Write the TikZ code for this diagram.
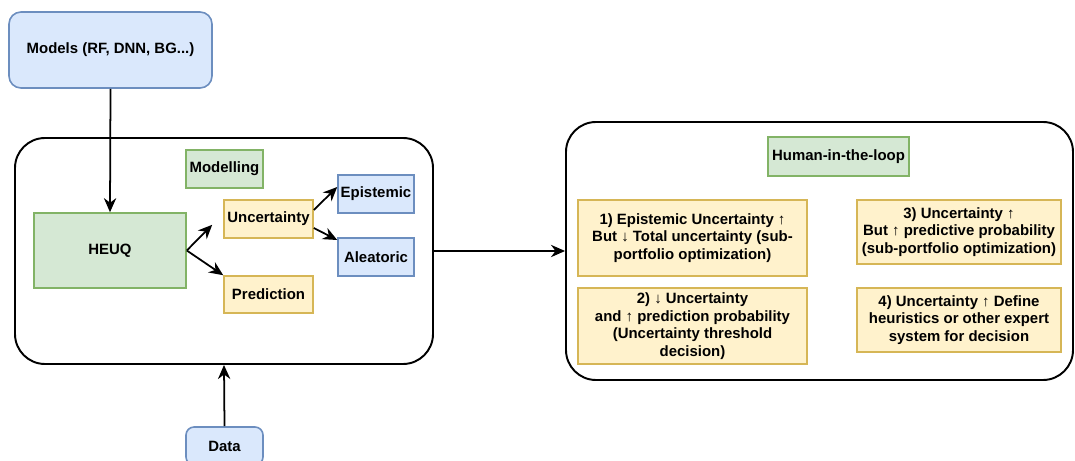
\documentclass[tikz,border=0pt]{standalone}
\usepackage{fontspec}
\setmainfont{Liberation Sans}
\usepackage{tikz}
\usetikzlibrary{arrows.meta,calc}
\usepackage{xcolor}
\definecolor{BoxBlue}{HTML}{dae8fc}
\definecolor{LineBlue}{HTML}{6c8ebf}
\definecolor{BoxGreen}{HTML}{d5e8d4}
\definecolor{LineGreen}{HTML}{82b366}
\definecolor{BoxYellow}{HTML}{fff2cc}
\definecolor{LineYellow}{HTML}{d6b656}

\begin{document}
\begin{tikzpicture}[
   every node/.style={font=\bfseries\fontsize{8.5}{10}\selectfont, align=center, inner sep=1pt},
   bluebox/.style={draw=LineBlue, fill=BoxBlue, line width=0.9pt},
   greenbox/.style={draw=LineGreen, fill=BoxGreen, line width=0.9pt},
   yellowbox/.style={draw=LineYellow, fill=BoxYellow, line width=0.9pt},
   frame/.style={draw, line width=1.1pt, rounded corners=0.6cm},
   link/.style={-{Stealth[length=8pt,width=7pt]}, line width=1pt}
]
   \useasboundingbox (0,0) rectangle (21.5,9.2);

   \node[frame, minimum width=8.36cm, minimum height=4.52cm] (modframe) at (4.48,4.18) {};
   \node[frame, minimum width=10.14cm, minimum height=5.16cm] (loopframe) at (16.39,4.18) {};

   \node[bluebox, rounded corners=0.24cm, minimum width=4.06cm, minimum height=1.52cm] (models) at (2.21,8.2) {Models (RF, DNN, BG...)};
   \node[bluebox, rounded corners=0.16cm, minimum width=1.54cm, minimum height=0.76cm] (data) at (4.49,0.28) {Data};

   \node[greenbox, minimum width=1.54cm, minimum height=0.76cm] (modelling) at (4.49,5.82) {Modelling};
   \node[greenbox, minimum width=3.04cm, minimum height=1.5cm] (heuq) at (2.2,4.19) {HEUQ};
   \node[yellowbox, minimum width=1.78cm, minimum height=0.76cm] (unc) at (5.37,4.82) {Uncertainty};
   \node[yellowbox, minimum width=1.78cm, minimum height=0.74cm] (pred) at (5.37,3.31) {Prediction};
   \node[bluebox, minimum width=1.52cm, minimum height=0.76cm] (epi) at (7.52,5.32) {Epistemic};
   \node[bluebox, minimum width=1.52cm, minimum height=0.76cm] (ale) at (7.52,4.06) {Aleatoric};

   \node[greenbox, line width=1.3pt, minimum width=2.82cm, minimum height=0.78cm] (hitl) at (16.77,6.07) {Human-in-the-loop};
   \node[yellowbox, minimum width=4.58cm, minimum height=1.52cm] (case1) at (13.85,4.44) {1) Epistemic Uncertainty ↑\\But ↓ Total uncertainty (sub-\\portfolio optimization)};
   \node[yellowbox, minimum width=4.58cm, minimum height=1.52cm] (case2) at (13.85,2.68) {2) ↓ Uncertainty\\and ↑ prediction probability\\(Uncertainty threshold\\decision)};
   \node[yellowbox, minimum width=4.08cm, minimum height=1.28cm] (case3) at (19.18,4.56) {3) Uncertainty ↑\\But ↑ predictive probability\\(sub-portfolio optimization)};
   \node[yellowbox, minimum width=4.08cm, minimum height=1.28cm] (case4) at (19.18,2.8) {4) Uncertainty ↑ Define\\heuristics or other expert\\system for decision};

   \draw[link] (models.south) -- (heuq.north);
   \draw[link] (heuq.east) -- ([shift={(-0.22,0.28)}]unc.south west);
   \draw[link] (heuq.east) -- (pred.north west);
   \draw[link] ([yshift=0.18cm]unc.east) -- ([yshift=0.14cm]epi.west);
   \draw[link] ([yshift=-0.18cm]unc.east) -- ([yshift=0.34cm]ale.west);
   \draw[link] (data.north) -- (modframe.south);
   \draw[link] (modframe.east) -- (loopframe.west);
\end{tikzpicture}
\end{document}
